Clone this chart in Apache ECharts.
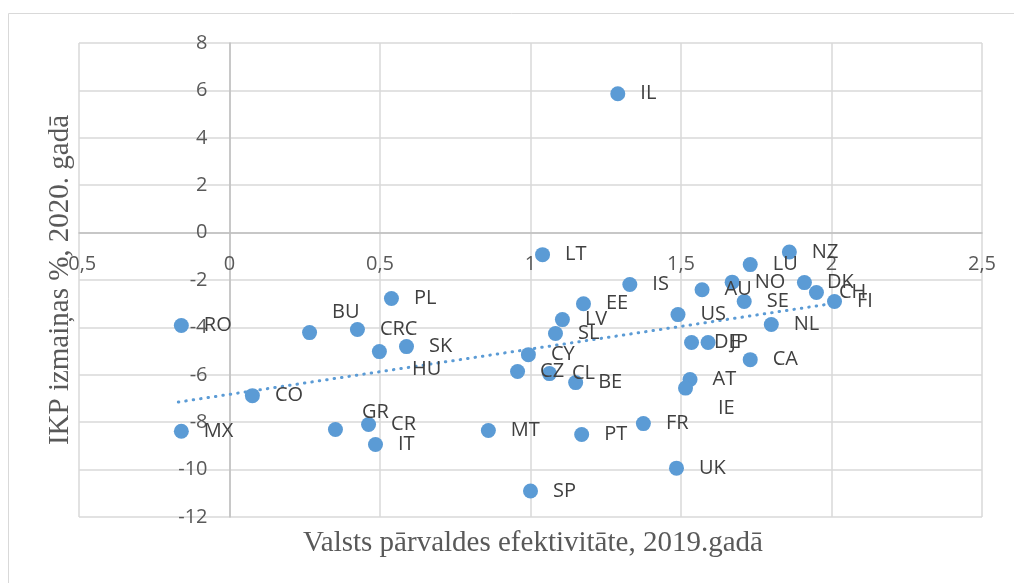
<!DOCTYPE html>
<html>
<head>
<meta charset="utf-8">
<script src="https://cdn.jsdelivr.net/npm/echarts@6/dist/echarts.min.js"></script>
<style>
  html, body { margin: 0; padding: 0; background: #fff; }
  #chart { width: 1014px; height: 583px; }
</style>
</head>
<body>
<div id="chart"></div>
<script>
// valstis un vērtības
var countries = ['IL', 'LT', 'NZ', 'LU', 'IS', 'AU', 'NO', 'SE', 'DK', 'CH', 'FI', 'NL', 'US', 'DE', 'JP', 'CA', 'AT', 'IE', 'FR', 'UK', 'SP', 'PT', 'MT', 'BE', 'CL', 'CZ', 'CY', 'SL', 'LV', 'EE', 'RO', 'MX', 'CO', 'BU', 'CRC', 'HU', 'SK', 'PL', 'GR', 'CR', 'IT'];
var efficiency = [1.29, 1.04, 1.86, 1.73, 1.33, 1.57, 1.67, 1.71, 1.91, 1.95, 2.01, 1.80, 1.49, 1.535, 1.59, 1.73, 1.53, 1.515, 1.375, 1.485, 1.00, 1.17, 0.86, 1.15, 1.063, 0.957, 0.993, 1.083, 1.106, 1.176, -0.16, -0.16, 0.076, 0.266, 0.425, 0.498, 0.588, 0.538, 0.352, 0.462, 0.485];
var gdpChange = [5.86, -0.93, -0.82, -1.35, -2.19, -2.41, -2.09, -2.91, -2.11, -2.53, -2.91, -3.88, -3.46, -4.64, -4.64, -5.36, -6.2, -6.56, -8.06, -9.94, -10.9, -8.52, -8.35, -6.33, -5.95, -5.86, -5.15, -4.26, -3.67, -3.0, -3.92, -8.38, -6.88, -4.22, -4.09, -5.02, -4.81, -2.78, -8.31, -8.1, -8.94];

// tendences līnija (lineāra)
var trendX = [-0.17, 2.0];
var trendY = [-7.15, -3.0];

var xTicks = { min: -0.5, max: 2.5, step: 0.5 };
var yTicks = { min: -12, max: 8, step: 2 };

// pārvietotās etiķetes
var moved = {
  BU: [0, -20],
  GR: [4, -17],
  HU: [10, 18],
  IE: [10, 20]
};

var blue = '#5B9BD5';
var points = countries.map(function (c, i) {
  var d = { name: c, value: [efficiency[i], gdpChange[i]] };
  if (moved[c]) d.label = { offset: moved[c] };
  return d;
});

// asis krustojas nullē: nobīde no režģa malas
var W = 1014, H = 583;
var grid = { left: 79, right: 32, top: 43, bottom: 66 };
var gw = W - grid.left - grid.right, gh = H - grid.top - grid.bottom;
var xZero = gw * (0 - xTicks.min) / (xTicks.max - xTicks.min);
var yZero = gh * (0 - yTicks.min) / (yTicks.max - yTicks.min);

var chart = echarts.init(document.getElementById('chart'));
chart.setOption({
  animation: false,
  grid: grid,
  xAxis: {
    type: 'value', position: 'bottom', offset: -yZero,
    min: xTicks.min, max: xTicks.max, interval: xTicks.step,
    axisLine: { onZero: false, lineStyle: { color: '#bfbfbf', width: 1.5 } },
    axisTick: { show: false },
    axisLabel: {
      margin: 22, color: '#595959', fontSize: 20, fontFamily: 'Open Sans',
      formatter: function (v) { return String(v).replace('.', ','); }
    },
    splitLine: { show: true, lineStyle: { color: '#d9d9d9', width: 1.5 } }
  },
  yAxis: {
    type: 'value', position: 'left', offset: -xZero,
    min: yTicks.min, max: yTicks.max, interval: yTicks.step,
    axisLine: { onZero: false, lineStyle: { color: '#bfbfbf', width: 1.5 } },
    axisTick: { show: false },
    axisLabel: { margin: 22, color: '#595959', fontSize: 20, fontFamily: 'Open Sans' },
    splitLine: { show: true, lineStyle: { color: '#d9d9d9', width: 1.5 } }
  },
  graphic: [
    {
      type: 'rect', silent: true,
      shape: { x: 8.5, y: 13.5, width: 1020, height: 600 },
      style: { fill: 'none', stroke: '#d9d9d9', lineWidth: 1 }
    },
    {
      type: 'text', x: 60, y: 280, rotation: Math.PI / 2,
      style: {
        text: 'IKP izmaiņas %, 2020. gadā', fill: '#595959',
        font: '29px "Liberation Serif"', align: 'center', verticalAlign: 'middle'
      }
    },
    {
      type: 'text', x: 533, y: 543,
      style: {
        text: 'Valsts pārvaldes efektivitāte, 2019.gadā', fill: '#595959',
        font: '29px "Liberation Serif"', align: 'center', verticalAlign: 'middle'
      }
    }
  ],
  series: [
    {
      type: 'line',
      data: trendX.map(function (x, i) { return [x, trendY[i]]; }),
      symbol: 'none',
      lineStyle: { color: blue, width: 3, type: [0.5, 7], cap: 'round' },
      z: 2
    },
    {
      type: 'scatter',
      data: points,
      symbolSize: 15,
      itemStyle: { color: blue, opacity: 1 },
      label: {
        show: true, position: 'right', distance: 15,
        formatter: '{b}', color: '#404040', fontSize: 20, fontFamily: 'Open Sans'
      },
      z: 3
    }
  ]
});
</script>
</body>
</html>
